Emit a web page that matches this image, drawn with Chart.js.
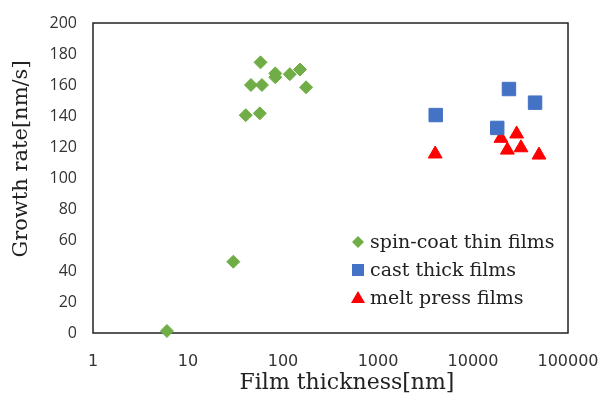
<!DOCTYPE html>
<html>
<head>
<meta charset="utf-8">
<script src="https://cdn.jsdelivr.net/npm/chart.js@4"></script>
<style>
  html, body { margin: 0; padding: 0; background: #fff; }
  #wrap { width: 601px; height: 397px; }
</style>
</head>
<body>
<div id="wrap"><canvas id="scatterChart" width="601" height="397"></canvas></div>
<script>
// thickness [nm] / growth rate [nm/s]
const spinX = [6, 30, 40.5, 57, 46, 60, 58, 83, 83, 118, 151, 175];
const spinY = [1.3, 46, 140.5, 141.7, 160, 160, 174.6, 167.5, 165, 167, 170, 158.5];
const castX = [4050, 18000, 23900, 45000];
const castY = [140.6, 132.3, 157.4, 148.6];
const meltX = [4000, 19700, 23000, 28800, 32000, 49500];
const meltY = [115.5, 125.6, 118, 128.4, 119.5, 114.8];
const xTicks = [1, 10, 100, 1000, 10000, 100000];
const seriesNames = ['spin-coat thin films', 'cast thick films', 'melt press films'];
const xTitle = 'Film thickness[nm]';
const yTitle = 'Growth rate[nm/s]';

const green = '#70AD47', blue = '#4472C4', red = '#FF0000';

function pts(xs, ys) {
  return xs.map((x, i) => ({ x: x, y: ys[i] }));
}

// box around the plot (under the markers), axis titles, legend inside the plot area
const framePlugin = {
  id: 'frame',
  beforeDatasetsDraw(chart) {
    const { ctx, chartArea: a } = chart;
    ctx.save();
    ctx.strokeStyle = '#222';
    ctx.lineWidth = 1.5;
    ctx.strokeRect(a.left, a.top, a.right - a.left, a.bottom - a.top);
    ctx.restore();
  },
  afterDraw(chart) {
    const ctx = chart.ctx;
    ctx.save();
    ctx.fillStyle = '#222';
    ctx.textAlign = 'center';
    ctx.textBaseline = 'middle';
    ctx.font = '22px "DejaVu Serif"';
    ctx.fillText(xTitle, 347, 383);
    ctx.save();
    ctx.translate(22, 159);
    ctx.rotate(-Math.PI / 2);
    ctx.font = '21px "DejaVu Serif"';
    ctx.fillText(yTitle, 0, 0);
    ctx.restore();

    const mx = 358, rows = [242, 270, 298];
    ctx.font = '19px "DejaVu Serif"';
    ctx.textAlign = 'left';
    rows.forEach((y, i) => {
      ctx.beginPath();
      if (i === 0) {
        ctx.fillStyle = green;
        ctx.moveTo(mx - 6, y); ctx.lineTo(mx, y - 6); ctx.lineTo(mx + 6, y); ctx.lineTo(mx, y + 6);
      } else if (i === 1) {
        ctx.fillStyle = blue;
        ctx.rect(mx - 6, y - 6, 12, 12);
      } else {
        ctx.fillStyle = red;
        ctx.moveTo(mx, y - 7); ctx.lineTo(mx + 7, y + 5); ctx.lineTo(mx - 7, y + 5);
      }
      ctx.closePath();
      ctx.fill();
      ctx.fillStyle = '#222';
      ctx.fillText(seriesNames[i], 370, y + 1);
    });
    ctx.restore();
  }
};

new Chart(document.getElementById('scatterChart'), {
  type: 'scatter',
  data: {
    datasets: [
      {
        label: seriesNames[0],
        data: pts(spinX, spinY),
        pointStyle: 'rectRot',
        pointRadius: 6.5,
        backgroundColor: green,
        borderColor: green,
        borderWidth: 1,
        clip: false
      },
      {
        label: seriesNames[1],
        data: pts(castX, castY),
        pointStyle: 'rect',
        pointRadius: 9.5,
        backgroundColor: blue,
        borderColor: blue,
        borderWidth: 1,
        clip: false
      },
      {
        label: seriesNames[2],
        data: pts(meltX, meltY),
        pointStyle: 'triangle',
        pointRadius: 8,
        backgroundColor: red,
        borderColor: red,
        borderWidth: 1,
        clip: false
      }
    ]
  },
  options: {
    responsive: false,
    animation: false,
    layout: { padding: { top: 23, right: 33, left: 0, bottom: 0 } },
    plugins: {
      legend: { display: false },
      tooltip: { enabled: false }
    },
    scales: {
      x: {
        type: 'logarithmic',
        min: 1,
        max: 100000,
        afterBuildTicks: s => { s.ticks = xTicks.map(v => ({ value: v })); },
        afterFit: s => { s.height = 64; s.paddingLeft = 0; s.paddingRight = 0; },
        grid: { display: false },
        border: { display: false },
        ticks: {
          color: '#333',
          font: { family: '"DejaVu Sans"', size: 16 },
          padding: 11,
          maxRotation: 0,
          autoSkip: false,
          callback: v => String(v)
        }
      },
      y: {
        min: 0,
        max: 200,
        afterFit: s => { s.width = 93; s.paddingTop = 0; s.paddingBottom = 0; },
        grid: { display: false },
        border: { display: false },
        ticks: {
          stepSize: 20,
          color: '#333',
          font: { family: '"Open Sans"', size: 16 },
          padding: 8
        }
      }
    }
  },
  plugins: [framePlugin]
});
</script>
</body>
</html>
